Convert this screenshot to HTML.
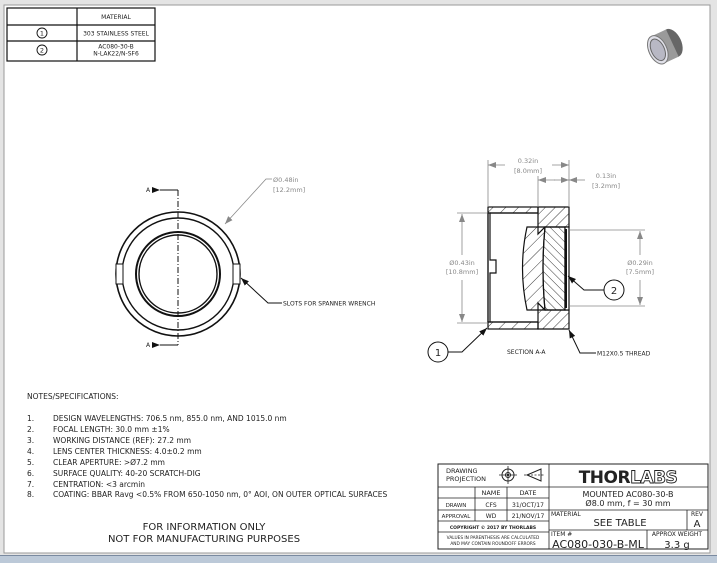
<!DOCTYPE html>
<html><head><meta charset="utf-8"><style>
html,body{margin:0;padding:0;background:#fff}
svg{display:block}
text{font-family:"DejaVu Sans","Liberation Sans",sans-serif}
</style></head><body>
<svg width="717" height="563" viewBox="0 0 717 563" xmlns="http://www.w3.org/2000/svg">
<defs>
<pattern id="h1" patternUnits="userSpaceOnUse" width="9" height="9" patternTransform="rotate(45)"><line x1="0" y1="0" x2="0" y2="9" stroke="#222" stroke-width="0.9"/></pattern>
<pattern id="h2" patternUnits="userSpaceOnUse" width="6" height="6" patternTransform="rotate(-45)"><line x1="0" y1="0" x2="0" y2="6" stroke="#222" stroke-width="0.9"/></pattern>
<pattern id="h3" patternUnits="userSpaceOnUse" width="7" height="7" patternTransform="rotate(45)"><line x1="0" y1="0" x2="0" y2="7" stroke="#222" stroke-width="0.9"/></pattern>
<marker id="ar" markerWidth="8" markerHeight="6" refX="8" refY="3" orient="auto" markerUnits="userSpaceOnUse"><path d="M0,0 L8,3 L0,6z" fill="#888"/></marker>
<marker id="ak" markerWidth="8" markerHeight="6" refX="8" refY="3" orient="auto" markerUnits="userSpaceOnUse"><path d="M0,0 L8,3 L0,6z" fill="#111"/></marker>
</defs>
<rect x="0" y="0" width="717" height="563" fill="#e4e4e4"/>
<rect x="4" y="5" width="706" height="548" fill="#fff" stroke="#9a9a9a" stroke-width="1"/>
<rect x="0" y="555" width="717" height="8" fill="#bcc9d8"/>
<line x1="0" y1="555.5" x2="717" y2="555.5" stroke="#7a8aa0"/>

<g stroke="#111" stroke-width="1.2" fill="none">
<rect x="7" y="8" width="148" height="53"/>
<line x1="77" y1="8" x2="77" y2="61"/>
<line x1="7" y1="25" x2="155" y2="25"/>
<line x1="7" y1="41" x2="155" y2="41"/>
<circle cx="42" cy="33" r="5" stroke-width="0.9"/>
<circle cx="42" cy="50" r="5" stroke-width="0.9"/>
</g>
<g font-size="6" fill="#222" text-anchor="middle">
<text x="116" y="19">MATERIAL</text>
<text x="116" y="35.5">303 STAINLESS STEEL</text>
<text x="116" y="48.5">AC080-30-B</text>
<text x="116" y="55.5">N-LAK22/N-SF6</text>
<text x="42" y="35.5" font-size="6.5">1</text>
<text x="42" y="52.5" font-size="6.5">2</text>
</g>

<g transform="translate(666,46) rotate(-25)">
<ellipse cx="7" cy="0" rx="9" ry="15" fill="#666"/>
<rect x="-9" y="-15" width="16" height="30" fill="#9a9a9a"/>
<ellipse cx="-9" cy="0" rx="9" ry="15" fill="#e0e0e8" stroke="#777"/>
<ellipse cx="-9" cy="0" rx="6.5" ry="11.5" fill="#b8b8c4" stroke="#666"/>
</g>

<g stroke="#111" fill="none">
<circle cx="178" cy="274" r="62" stroke-width="1.6"/>
<circle cx="178" cy="274" r="56" stroke-width="1.4"/>
<circle cx="178" cy="274" r="42" stroke-width="2"/>
<circle cx="178" cy="274" r="39" stroke-width="1.4"/>
<rect x="116" y="264" width="7" height="20" fill="#fff" stroke-width="1"/>
<rect x="233" y="264" width="7" height="20" fill="#fff" stroke-width="1"/>
<line x1="178" y1="190" x2="178" y2="345" stroke-dasharray="6,2,1,2" stroke-width="1"/>
<line x1="160" y1="190" x2="178" y2="190" marker-start="url(#ak)" stroke-width="1"/>
<line x1="160" y1="345" x2="178" y2="345" marker-start="url(#ak)" stroke-width="1"/>
<polyline points="282,303 268,303 241,278" stroke-width="1" marker-end="url(#ak)"/>
</g>
<polyline points="272,179 266,179 225,224" fill="none" stroke="#888" stroke-width="0.8" marker-end="url(#ar)"/>
<g font-size="6" fill="#222">
<text x="146" y="192">A</text>
<text x="146" y="347">A</text>
<text x="283" y="305.5">SLOTS FOR SPANNER WRENCH</text>
</g>
<g font-size="6.5" fill="#888">
<text x="273" y="182">Ø0.48in</text>
<text x="273" y="192">[12.2mm]</text>
</g>

<g stroke="#111" stroke-width="1.2">
<rect x="488" y="207" width="50" height="6" fill="url(#h1)"/>
<rect x="488" y="322" width="50" height="7" fill="url(#h1)"/>
<path d="M538,207 L569,207 L569,227 L560,227 L545,227 L538,234 L538,213 z" fill="url(#h3)"/>
<path d="M538,329 L569,329 L569,310 L545,310 L538,303 L538,322 z" fill="url(#h3)"/>
<path d="M488,213 L490,213 L490,260 L496,260 L496,273 L490,273 L490,322 L488,322 z" fill="#fff"/>
<line x1="488" y1="213" x2="488" y2="322"/>
<line x1="490" y1="213" x2="538" y2="213"/>
<line x1="490" y1="322" x2="538" y2="322"/>
<path d="M527,227 L545,227 Q541,268 545,310 L527,310 Q518,268 527,227 z" fill="url(#h1)"/>
<path d="M545,227 L565,227 L565,310 L545,310 Q541,268 545,227 z" fill="url(#h2)"/>
<rect x="565" y="227" width="4" height="83" fill="#fff"/>
<line x1="566" y1="229" x2="566" y2="308" stroke-width="2"/>
</g>
<g stroke="#888" stroke-width="0.8" fill="none">
<line x1="488" y1="160" x2="488" y2="207"/>
<line x1="569" y1="160" x2="569" y2="207"/>
<line x1="538" y1="176" x2="538" y2="207"/>
<line x1="505" y1="165" x2="488" y2="165" marker-end="url(#ar)"/>
<line x1="552" y1="165" x2="569" y2="165" marker-end="url(#ar)"/>
<line x1="555" y1="180" x2="538" y2="180" marker-end="url(#ar)"/>
<line x1="585" y1="180" x2="569" y2="180" marker-end="url(#ar)"/>
<line x1="554" y1="180" x2="569" y2="180" marker-end="url(#ar)"/>
<line x1="457" y1="213" x2="487" y2="213"/>
<line x1="457" y1="323" x2="487" y2="323"/>
<line x1="462" y1="255" x2="462" y2="214" marker-end="url(#ar)"/>
<line x1="462" y1="280" x2="462" y2="322" marker-end="url(#ar)"/>
<line x1="570" y1="230" x2="645" y2="230"/>
<line x1="570" y1="306" x2="645" y2="306"/>
<line x1="640" y1="255" x2="640" y2="231" marker-end="url(#ar)"/>
<line x1="640" y1="280" x2="640" y2="305" marker-end="url(#ar)"/>
</g>
<g font-size="6.5" fill="#888" text-anchor="middle">
<text x="528" y="163">0.32in</text>
<text x="528" y="173">[8.0mm]</text>
<text x="606" y="178">0.13in</text>
<text x="606" y="188">[3.2mm]</text>
<text x="462" y="265">Ø0.43in</text>
<text x="462" y="274">[10.8mm]</text>
<text x="640" y="265">Ø0.29in</text>
<text x="640" y="274">[7.5mm]</text>
</g>
<g stroke="#111" stroke-width="1" fill="none">
<circle cx="614" cy="290" r="10"/>
<polyline points="604,290 584,290 568,276" marker-end="url(#ak)"/>
<circle cx="438" cy="352" r="10"/>
<polyline points="448,352 462,352 487,328" marker-end="url(#ak)"/>
<polyline points="596,353 580,353 569,330" marker-end="url(#ak)"/>
</g>
<g font-size="6" fill="#222">
<text x="614" y="294" text-anchor="middle" font-size="10">2</text>
<text x="438" y="356" text-anchor="middle" font-size="10">1</text>
<text x="507" y="354">SECTION A-A</text>
<text x="597" y="355.5">M12X0.5 THREAD</text>
</g>

<g font-size="7.5" fill="#222">
<text x="27" y="399">NOTES/SPECIFICATIONS:</text>
<text x="27" y="421">1.</text><text x="53" y="421">DESIGN WAVELENGTHS: 706.5 nm, 855.0 nm, AND 1015.0 nm</text>
<text x="27" y="432">2.</text><text x="53" y="432">FOCAL LENGTH: 30.0 mm ±1%</text>
<text x="27" y="443">3.</text><text x="53" y="443">WORKING DISTANCE (REF): 27.2 mm</text>
<text x="27" y="454">4.</text><text x="53" y="454">LENS CENTER THICKNESS: 4.0±0.2 mm</text>
<text x="27" y="465">5.</text><text x="53" y="465">CLEAR APERTURE: &gt;Ø7.2 mm</text>
<text x="27" y="476">6.</text><text x="53" y="476">SURFACE QUALITY: 40-20 SCRATCH-DIG</text>
<text x="27" y="487">7.</text><text x="53" y="487">CENTRATION: &lt;3 arcmin</text>
<text x="27" y="497">8.</text><text x="53" y="497">COATING: BBAR Ravg &lt;0.5% FROM 650-1050 nm, 0° AOI, ON OUTER OPTICAL SURFACES</text>
</g>
<g font-size="10" fill="#222" text-anchor="middle">
<text x="204" y="530">FOR INFORMATION ONLY</text>
<text x="204" y="542">NOT FOR MANUFACTURING PURPOSES</text>
</g>

<g stroke="#222" stroke-width="0.8" fill="none">
<rect x="438" y="464" width="270" height="85" stroke-width="1"/>
<line x1="549" y1="464" x2="549" y2="549"/>
<line x1="438" y1="487" x2="549" y2="487"/>
<line x1="438" y1="498" x2="549" y2="498"/>
<line x1="438" y1="510" x2="549" y2="510"/>
<line x1="438" y1="521" x2="549" y2="521"/>
<line x1="438" y1="532" x2="549" y2="532"/>
<line x1="475" y1="487" x2="475" y2="521"/>
<line x1="507" y1="487" x2="507" y2="521"/>
<line x1="549" y1="487" x2="708" y2="487"/>
<line x1="549" y1="510" x2="708" y2="510"/>
<line x1="549" y1="530" x2="708" y2="530"/>
<line x1="687" y1="510" x2="687" y2="530"/>
<line x1="647" y1="530" x2="647" y2="549"/>
<circle cx="508" cy="475" r="6" stroke-width="1"/>
<circle cx="508" cy="475" r="2.5" stroke-width="1"/>
<line x1="499" y1="475" x2="517" y2="475"/>
<line x1="508" y1="466" x2="508" y2="484"/>
<path d="M527,475 L541,469 L541,481 z" stroke-width="1"/>
<line x1="524" y1="475" x2="544" y2="475" stroke-dasharray="2,1.5"/>
</g>
<circle cx="508" cy="475" r="1.2" fill="#222"/>
<g fill="#222" text-anchor="middle">
<text x="446" y="473" font-size="6.5" text-anchor="start">DRAWING</text>
<text x="446" y="481" font-size="6.5" text-anchor="start">PROJECTION</text>
<text x="491" y="495" font-size="6.5">NAME</text>
<text x="528" y="495" font-size="6.5">DATE</text>
<text x="456" y="507" font-size="5.5">DRAWN</text>
<text x="491" y="507" font-size="6">CFS</text>
<text x="528" y="507" font-size="6">31/OCT/17</text>
<text x="456" y="518" font-size="5.5">APPROVAL</text>
<text x="491" y="518" font-size="6">WD</text>
<text x="528" y="518" font-size="6">21/NOV/17</text>
<text x="493" y="529" font-size="4.5" font-weight="bold">COPYRIGHT © 2017 BY THORLABS</text>
<text x="493" y="539" font-size="4.3">VALUES IN PARENTHESIS ARE CALCULATED</text>
<text x="493" y="545" font-size="4.3">AND MAY CONTAIN ROUNDOFF ERRORS</text>
<text x="628" y="483" font-size="17" font-weight="bold" letter-spacing="-0.5">THOR<tspan fill="#fff" stroke="#222" stroke-width="0.9">LABS</tspan></text>
<text x="628" y="497" font-size="8">MOUNTED AC080-30-B</text>
<text x="628" y="506" font-size="8">Ø8.0 mm, f = 30 mm</text>
<text x="551" y="516" font-size="6" text-anchor="start">MATERIAL</text>
<text x="620" y="526" font-size="10">SEE TABLE</text>
<text x="697" y="516" font-size="6">REV</text>
<text x="697" y="527" font-size="10">A</text>
<text x="551" y="536" font-size="6" text-anchor="start">ITEM #</text>
<text x="598" y="548" font-size="11">AC080-030-B-ML</text>
<text x="677" y="536" font-size="6">APPROX WEIGHT</text>
<text x="677" y="548" font-size="10">3.3 g</text>
</g>
</svg>
</body></html>
